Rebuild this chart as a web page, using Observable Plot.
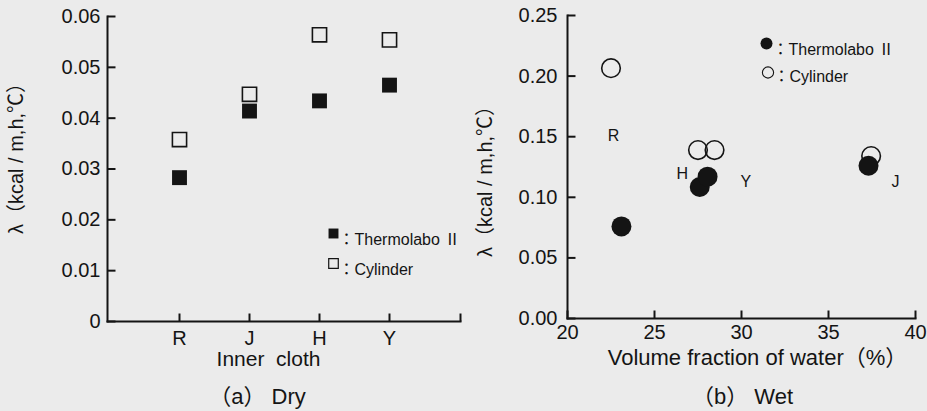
<!DOCTYPE html>
<html><head><meta charset="utf-8">
<script src="https://cdn.jsdelivr.net/npm/d3@7"></script>
<script src="https://cdn.jsdelivr.net/npm/@observablehq/plot@0.6"></script>
<style>
body{margin:0;background:#ebebeb;font-family:"Liberation Sans",Arial,"Noto Sans CJK JP",sans-serif;color:#141414;}
#wrap{display:flex;width:927px;height:411px;}
.panel{height:411px;}
svg{display:block;}
</style></head><body>
<div id="wrap"><div class="panel" id="a" style="width:470px"></div><div class="panel" id="b" style="width:457px"></div></div>
<script>
// ---- (a) Dry ----
const cloths = ["R", "J", "H", "Y"];
const dryThermolabo = [0.0283, 0.0414, 0.0434, 0.0465];
const dryCylinder = [0.0358, 0.0447, 0.0564, 0.0554];
const dryTicks = [0, 0.01, 0.02, 0.03, 0.04, 0.05, 0.06];

// ---- (b) Wet ----
const wetCloths = ["R", "H", "Y", "J"];
const wetThermolaboX = [23.1, 27.6, 28.05, 37.3];
const wetThermolaboY = [0.076, 0.1085, 0.117, 0.126];
const wetCylinderX = [22.5, 27.5, 28.45, 37.45];
const wetCylinderY = [0.2065, 0.139, 0.139, 0.134];
const wetLabelX = [22.65, 26.6, 30.25, 38.85];
const wetLabelY = [0.151, 0.119, 0.1125, 0.1125];
const wetXTicks = [20, 25, 30, 35, 40];
const wetYTicks = [0, 0.05, 0.10, 0.15, 0.20, 0.25];

const seriesNames = ["Thermolabo Ⅱ", "Cylinder"];
const yTitle = "λ（kcal / m,h,℃）";
const xTitleA = "Inner\u00a0\u00a0cloth";
const xTitleB = "Volume fraction of water（%）";
const captions = ["（a）\u00a0Dry", "（b）\u00a0Wet"];

const ink = "#141414";
const font = '"Liberation Sans", Arial, "Noto Sans CJK JP", sans-serif';
const svgH = 411;

// filled-bar symbols used to draw axis lines and inward ticks
const bar = (x0, y0, x1, y1) => ({draw(ctx) {
  ctx.moveTo(x0, y0); ctx.lineTo(x1, y0); ctx.lineTo(x1, y1); ctx.lineTo(x0, y1); ctx.closePath();
}});
const tickRight = bar(0, -1, 8, 1);
const tickUp = bar(-1, 0, 1, -8);

function axisFrame(pw, ph, endTick) {
  const marks = [
    Plot.dot([0], {frameAnchor: "bottom-left", symbol: bar(-1, 1, 1, -ph - 1), r: 5, fill: ink, stroke: "none"}),
    Plot.dot([0], {frameAnchor: "bottom-left", symbol: bar(-1, 1, pw + 1, -1), r: 5, fill: ink, stroke: "none"})
  ];
  if (endTick) marks.push(Plot.dot([0], {frameAnchor: "bottom-right", symbol: bar(-1, 0, 1, -8), r: 5, fill: ink, stroke: "none"}));
  return marks;
}

// ---------- Panel A ----------
{
  const W = 470, mL = 107, mT = 16, mR = 10, mB = 90;
  const pw = W - mL - mR, ph = svgH - mT - mB;
  const bottom = svgH - mB;
  const dry = cloths.map((c, i) => ({cloth: c, t: dryThermolabo[i], c: dryCylinder[i]}));
  const chart = Plot.plot({
    width: W, height: svgH, marginLeft: mL, marginTop: mT, marginRight: mR, marginBottom: mB,
    style: {background: "transparent", fontFamily: font, fontSize: "20px", color: ink},
    x: {type: "point", domain: cloths, padding: 1},
    y: {domain: [0, 0.06]},
    marks: [
      Plot.axisY(dryTicks, {tickSize: 0, tickPadding: 7, fontSize: 20, label: null,
        tickFormat: d => d === 0 ? "0" : d3.format(".2f")(d)}),
      Plot.axisX({tickSize: 0, tickPadding: 9, fontSize: 20, label: null}),
      ...axisFrame(pw, ph, true),
      Plot.dot(dryTicks, {y: d => d, frameAnchor: "left", symbol: tickRight, r: 5, fill: ink, stroke: "none"}),
      Plot.dot(cloths, {x: d => d, frameAnchor: "bottom", symbol: tickUp, r: 5, fill: ink, stroke: "none"}),
      Plot.dot(dry, {x: "cloth", y: "c", symbol: "square", r: 8.0, fill: "none", stroke: ink, strokeWidth: 1.6}),
      Plot.dot(dry, {x: "cloth", y: "t", symbol: "square", r: 8.4, fill: ink, stroke: "none"}),
      // legend
      Plot.dot([seriesNames[0]], {frameAnchor: "top-left", dx: 226, dy: 217, symbol: "square", r: 5.6, fill: ink, stroke: "none"}),
      Plot.dot([seriesNames[1]], {frameAnchor: "top-left", dx: 226, dy: 247, symbol: "square", r: 5.4, fill: "none", stroke: ink, strokeWidth: 1.2}),
      Plot.text([seriesNames[0]], {frameAnchor: "top-left", dx: 231, dy: 217, text: d => "：" + d, textAnchor: "start", fontSize: 16, fill: ink}),
      Plot.text([seriesNames[1]], {frameAnchor: "top-left", dx: 231, dy: 247, text: d => "：" + d, textAnchor: "start", fontSize: 16, fill: ink}),
      // titles
      Plot.text([yTitle], {frameAnchor: "left", text: d => d, rotate: -90, textAnchor: "middle", dx: 16 - mL, dy: 153 - (mT + bottom) / 2, fontSize: 20, fill: ink}),
      Plot.text([xTitleA], {frameAnchor: "bottom", text: d => d, textAnchor: "middle", dx: 268 - (mL + W - mR) / 2, dy: 38, lineAnchor: "middle", fontSize: 21, fill: ink}),
      Plot.text([captions[0]], {frameAnchor: "bottom", text: d => d, textAnchor: "middle", dx: 257 - (mL + W - mR) / 2, dy: 75, lineAnchor: "middle", fontSize: 22, fill: ink})
    ]
  });
  document.getElementById("a").append(chart);
}

// ---------- Panel B ----------
{
  const W = 457, mL = 97, mT = 15, mR = 12, mB = 93;
  const pw = W - mL - mR, ph = svgH - mT - mB;
  const bottom = svgH - mB;
  const therm = wetCloths.map((c, i) => ({cloth: c, x: wetThermolaboX[i], y: wetThermolaboY[i]}));
  const cyl = wetCloths.map((c, i) => ({cloth: c, x: wetCylinderX[i], y: wetCylinderY[i]}));
  const labels = wetCloths.map((c, i) => ({cloth: c, x: wetLabelX[i], y: wetLabelY[i]}));
  const chart = Plot.plot({
    width: W, height: svgH, marginLeft: mL, marginTop: mT, marginRight: mR, marginBottom: mB,
    style: {background: "transparent", fontFamily: font, fontSize: "20px", color: ink},
    x: {domain: [20, 40]},
    y: {domain: [0, 0.25]},
    marks: [
      Plot.axisY(wetYTicks, {tickSize: 0, tickPadding: 10, fontSize: 20, label: null, tickFormat: d3.format(".2f")}),
      Plot.axisX(wetXTicks, {tickSize: 0, tickPadding: 6, fontSize: 20, label: null, tickFormat: d3.format("d")}),
      ...axisFrame(pw, ph, false),
      Plot.dot(wetYTicks, {y: d => d, frameAnchor: "left", symbol: tickRight, r: 5, fill: ink, stroke: "none"}),
      Plot.dot(wetXTicks, {x: d => d, frameAnchor: "bottom", symbol: tickUp, r: 5, fill: ink, stroke: "none"}),
      Plot.dot(cyl, {x: "x", y: "y", r: 9.3, fill: "none", stroke: ink, strokeWidth: 1.6}),
      Plot.dot(therm, {x: "x", y: "y", r: 10, fill: ink, stroke: "none"}),
      Plot.text(labels, {x: "x", y: "y", text: "cloth", fontSize: 16, fill: ink}),
      // legend
      Plot.dot([seriesNames[0]], {frameAnchor: "top-left", dx: 199, dy: 28, r: 6, fill: ink, stroke: "none"}),
      Plot.dot([seriesNames[1]], {frameAnchor: "top-left", dx: 200.5, dy: 57, r: 5.6, fill: "none", stroke: ink, strokeWidth: 1.1}),
      Plot.text([seriesNames[0]], {frameAnchor: "top-left", dx: 205, dy: 28, text: d => "：" + d, textAnchor: "start", fontSize: 16, fill: ink}),
      Plot.text([seriesNames[1]], {frameAnchor: "top-left", dx: 206, dy: 55, text: d => "：" + d, textAnchor: "start", fontSize: 16, fill: ink}),
      // titles
      Plot.text([yTitle], {frameAnchor: "left", text: d => d, rotate: -90, textAnchor: "middle", dx: 15 - mL, dy: 176 - (mT + bottom) / 2, fontSize: 20, fill: ink}),
      Plot.text([xTitleB], {frameAnchor: "bottom", text: d => d, textAnchor: "middle", dx: (757 - 470) - (mL + W - mR) / 2, dy: 39, lineAnchor: "middle", fontSize: 22, fill: ink}),
      Plot.text([captions[1]], {frameAnchor: "bottom", text: d => d, textAnchor: "middle", dx: (742 - 470) - (mL + W - mR) / 2, dy: 78, lineAnchor: "middle", fontSize: 22, fill: ink})
    ]
  });
  document.getElementById("b").append(chart);
}
</script>
</body></html>
